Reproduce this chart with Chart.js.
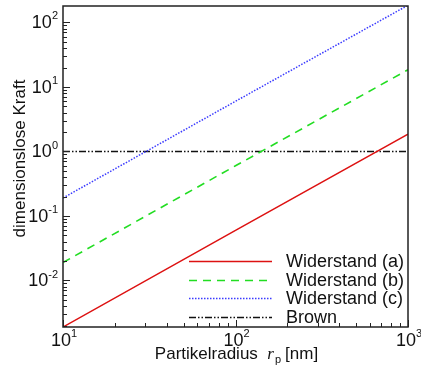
<!DOCTYPE html>
<html>
<head>
<meta charset="utf-8">
<script src="https://cdn.jsdelivr.net/npm/chart.js@4/dist/chart.umd.min.js"></script>
<style>
html,body{margin:0;padding:0;background:#fff;}
#wrap{width:421px;height:369px;}
</style>
</head>
<body>
<div id="wrap"><canvas id="c" width="421" height="369"></canvas></div>
<script>
// ---- data ----
const radius      = [10, 100, 1000];
const widerstandA = [0.0019, 0.06, 1.85];
const widerstandB = [0.019, 0.6, 18.5];
const widerstandC = [0.19, 6, 185];
const brown       = [1, 1, 1];
const seriesLabels = ['Widerstand (a)', 'Widerstand (b)', 'Widerstand (c)', 'Brown'];
const xTickValues = [10, 100, 1000];
const xTickExps   = ['1', '2', '3'];
const yTickValues = [0.01, 0.1, 1, 10, 100];
const yTickExps   = ['-2', '-1', '0', '1', '2'];
const xTitle = ['Partikelradius', 'r', 'p', '[nm]'];
const yTitle = 'dimensionslose Kraft';

function pts(ys){ return radius.map((x,i)=>({x:x, y:ys[i]})); }

const SANS = "'Liberation Sans', Arial, sans-serif";

const decor = {
  id:'decor',
  afterDraw(chart){
    const ctx = chart.ctx;
    const {left,right,top,bottom} = chart.chartArea;
    const xs = chart.scales.x, ys = chart.scales.y;
    ctx.save();
    ctx.strokeStyle = '#222';
    ctx.fillStyle = '#222';
    // frame
    ctx.lineWidth = 1.5;
    ctx.strokeRect(left, top, right-left, bottom-top);
    // inward ticks
    ctx.lineWidth = 1;
    ctx.beginPath();
    const yStart = yTickValues[0]/10;
    for (let d = yStart; d <= yTickValues[yTickValues.length-1]*1.0001; d*=10){
      for (let m=1;m<=9;m++){
        const v = m*d;
        if (v < ys.min*0.9999 || v > ys.max*1.0001) continue;
        const p = Math.round(ys.getPixelForValue(v))+0.5;
        const len = m===1 ? 7 : 4;
        ctx.moveTo(left, p); ctx.lineTo(left+len, p);
      }
    }
    for (let d = xTickValues[0]; d < xTickValues[xTickValues.length-1]*1.0001; d*=10){
      for (let m=1;m<=9;m++){
        const v = m*d;
        if (v < xs.min*0.9999 || v > xs.max*1.0001) continue;
        const p = Math.round(xs.getPixelForValue(v))+0.5;
        const len = m===1 ? 7 : 4;
        ctx.moveTo(p, bottom); ctx.lineTo(p, bottom-len);
      }
    }
    ctx.stroke();

    // tick labels
    ctx.fillStyle = '#111';
    const big = '18px '+SANS, small = '11px '+SANS;
    ctx.textBaseline = 'middle';
    yTickValues.forEach((v,i)=>{
      const p = ys.getPixelForValue(v);
      ctx.font = small; const we = ctx.measureText(yTickExps[i]).width;
      ctx.font = big; const wb = ctx.measureText('10').width;
      const xr = left - 5;
      ctx.textAlign = 'left';
      ctx.fillText('10', xr - we - wb, p+1);
      ctx.font = small;
      ctx.fillText(yTickExps[i], xr - we, p-6);
    });
    xTickValues.forEach((v,i)=>{
      const p = xs.getPixelForValue(v);
      ctx.font = small; const we = ctx.measureText(xTickExps[i]).width;
      ctx.font = big; const wb = ctx.measureText('10').width;
      const x0 = p - (wb+we)/2 + 1;
      ctx.textAlign = 'left';
      ctx.fillText('10', x0, bottom+14);
      ctx.font = small;
      ctx.fillText(xTickExps[i], x0+wb, bottom+7);
    });

    // x title
    const f1 = '17px '+SANS, fI = "italic 17px 'Liberation Serif', serif", fS = '11px '+SANS;
    ctx.font = f1; const w1 = ctx.measureText(xTitle[0]+'  ').width;
    ctx.font = fI; const w2 = ctx.measureText(xTitle[1]).width;
    ctx.font = fS; const w3 = ctx.measureText(xTitle[2]+' ').width + 2;
    ctx.font = f1; const w4 = ctx.measureText(xTitle[3]).width;
    let x = (left+right)/2 - (w1+w2+w3+w4)/2 + 1;
    const by = bottom + 32;
    ctx.textBaseline = 'alphabetic';
    ctx.font = f1; ctx.fillText(xTitle[0], x, by); x += w1;
    ctx.font = fI; ctx.fillText(xTitle[1], x, by); x += w2;
    ctx.font = fS; ctx.fillText(xTitle[2], x+1, by+4); x += w3;
    ctx.font = f1; ctx.fillText(xTitle[3], x, by);

    // y title
    ctx.save();
    ctx.translate(left-43, (top+bottom)/2 - 8);
    ctx.rotate(-Math.PI/2);
    ctx.font = f1; ctx.textAlign='center'; ctx.textBaseline='middle';
    ctx.fillText(yTitle, 0, 0);
    ctx.restore();

    // legend inside the plot
    chart.data.datasets.forEach((ds,i)=>{
      const ly = bottom - 66 + i*18.6;
      ctx.save();
      ctx.strokeStyle = ds.borderColor;
      ctx.lineWidth = ds.borderWidth;
      ctx.setLineDash(ds.borderDash || []);
      ctx.beginPath();
      ctx.moveTo(right-219, Math.round(ly)+0.5);
      ctx.lineTo(right-136, Math.round(ly)+0.5);
      ctx.stroke();
      ctx.restore();
      ctx.font = '18px '+SANS;
      ctx.textAlign = 'left'; ctx.textBaseline = 'middle';
      ctx.fillStyle = '#111';
      ctx.fillText(ds.label, right-122, ly+1);
    });
    ctx.restore();
  }
};

const hidden = {display:false};
new Chart(document.getElementById('c'), {
  type:'line',
  data:{
    datasets:[
      {label:seriesLabels[0], data:pts(widerstandA), borderColor:'#dd1111', borderWidth:1.5, borderDash:[]},
      {label:seriesLabels[1], data:pts(widerstandB), borderColor:'#22dd22', borderWidth:1.6, borderDash:[8,6]},
      {label:seriesLabels[2], data:pts(widerstandC), borderColor:'#3b3bff', borderWidth:1.5, borderDash:[1.5,1.5]},
      {label:seriesLabels[3], data:pts(brown), borderColor:'#111111', borderWidth:1.5, borderDash:[7,2,1.5,2,1.5,2]}
    ]
  },
  options:{
    responsive:false,
    animation:false,
    devicePixelRatio:1,
    layout:{padding:{left:63, right:13, top:6, bottom:42}},
    elements:{point:{radius:0}, line:{tension:0, fill:false}},
    plugins:{legend:hidden, tooltip:{enabled:false}, title:hidden},
    scales:{
      x:{type:'logarithmic', min:10, max:1000,
         grid:hidden, ticks:hidden, border:hidden, title:hidden,
         afterFit(s){ s.height = 0; }},
      y:{type:'logarithmic', min:0.0019, max:180,
         grid:hidden, ticks:hidden, border:hidden, title:hidden,
         afterFit(s){ s.width = 0; }}
    }
  },
  plugins:[decor]
});
</script>
</body>
</html>
